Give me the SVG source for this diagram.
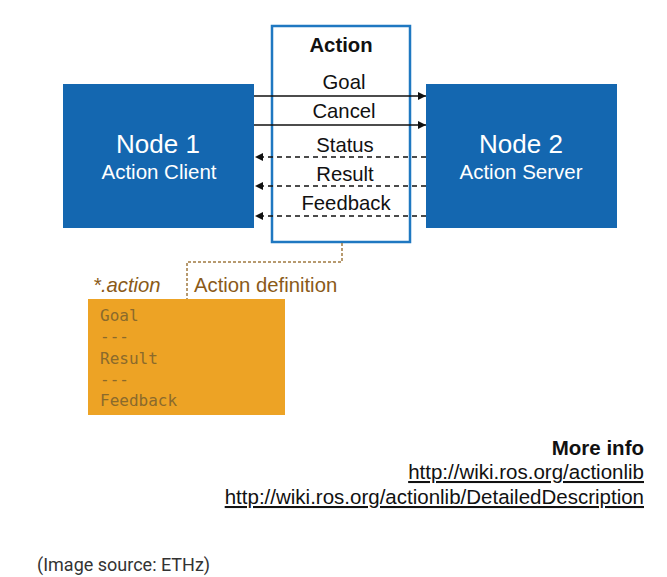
<svg xmlns="http://www.w3.org/2000/svg" width="667" height="577" viewBox="0 0 667 577">
<defs>
<marker id="ah" viewBox="0 0 10 10" refX="10" refY="5" markerWidth="10" markerHeight="8" markerUnits="userSpaceOnUse" orient="auto">
<path d="M0,0 L10,5 L0,10 Z" fill="#111"/>
</marker>
<style>
.node{fill:#1467b0;}
.ntitle{font-family:"Liberation Sans",Arial,sans-serif;font-size:26px;fill:#fff;text-anchor:middle;}
.nsub{font-family:"Liberation Sans",Arial,sans-serif;font-size:20.5px;fill:#fff;text-anchor:middle;}
.lbl{font-family:"Liberation Sans",Arial,sans-serif;font-size:20.3px;fill:#111;text-anchor:middle;}
.solid{stroke:#111;stroke-width:1.5;fill:none;}
.dash{stroke:#111;stroke-width:1.5;fill:none;stroke-dasharray:5,4;}
.mono{font-family:"DejaVu Sans Mono","Liberation Mono",monospace;font-size:16px;fill:#8a6a2c;}
.brown{font-family:"Liberation Sans",Arial,sans-serif;font-size:20.3px;fill:#8a5a18;}
.info{font-family:"Liberation Sans",Arial,sans-serif;font-size:20.5px;fill:#111;text-anchor:end;}
</style>
</defs>
<rect width="667" height="577" fill="#fff"/>
<g id="action">
<rect x="272" y="26" width="138" height="216" fill="#fff" stroke="#1f78c1" stroke-width="2.5"/>
<text x="341" y="52" class="lbl" font-weight="bold">Action</text>
</g>
<g id="node1">
<rect x="63" y="84" width="191" height="144" class="node"/>
<text x="158" y="153" class="ntitle">Node 1</text>
<text x="159" y="179" class="nsub">Action Client</text>
</g>
<g id="node2">
<rect x="426" y="84" width="191" height="144" class="node"/>
<text x="521" y="153" class="ntitle">Node 2</text>
<text x="521" y="179" class="nsub">Action Server</text>
</g>
<g id="connectors">
<line x1="254" y1="96" x2="426" y2="96" class="solid" marker-end="url(#ah)"/>
<line x1="254" y1="125" x2="426" y2="125" class="solid" marker-end="url(#ah)"/>
<line x1="426" y1="157" x2="255" y2="157" class="dash" marker-end="url(#ah)"/>
<line x1="426" y1="186" x2="255" y2="186" class="dash" marker-end="url(#ah)"/>
<line x1="426" y1="216" x2="255" y2="216" class="dash" marker-end="url(#ah)"/>
<polyline points="342,243 342,262 187,262 187,299" fill="none" stroke="#a07a40" stroke-width="1.5" stroke-dasharray="3,2"/>
<text x="344" y="89" class="lbl">Goal</text>
<text x="344" y="118" class="lbl">Cancel</text>
<text x="345" y="152" class="lbl">Status</text>
<text x="345" y="181" class="lbl">Result</text>
<text x="346" y="210" class="lbl">Feedback</text>
</g>
<g id="definition">
<text x="93" y="292" class="brown" font-style="italic">*.action</text>
<text x="194" y="292" class="brown">Action definition</text>
<rect x="88" y="299" width="197" height="116" fill="#eda325"/>
<text x="100" y="321" class="mono">Goal</text>
<text x="100" y="342" class="mono">---</text>
<text x="100" y="364" class="mono">Result</text>
<text x="100" y="385" class="mono">---</text>
<text x="100" y="406" class="mono">Feedback</text>
</g>
<g id="info">
<text x="644" y="455" class="info" font-weight="bold">More info</text>
<text x="644" y="479" class="info" text-decoration="underline">http://wiki.ros.org/actionlib</text>
<text x="644" y="504" class="info" text-decoration="underline">http://wiki.ros.org/actionlib/DetailedDescription</text>
</g>
<text x="37" y="571" font-family="Roboto,'Liberation Sans',sans-serif" font-size="18" fill="#333">(Image source: ETHz)</text>
</svg>
